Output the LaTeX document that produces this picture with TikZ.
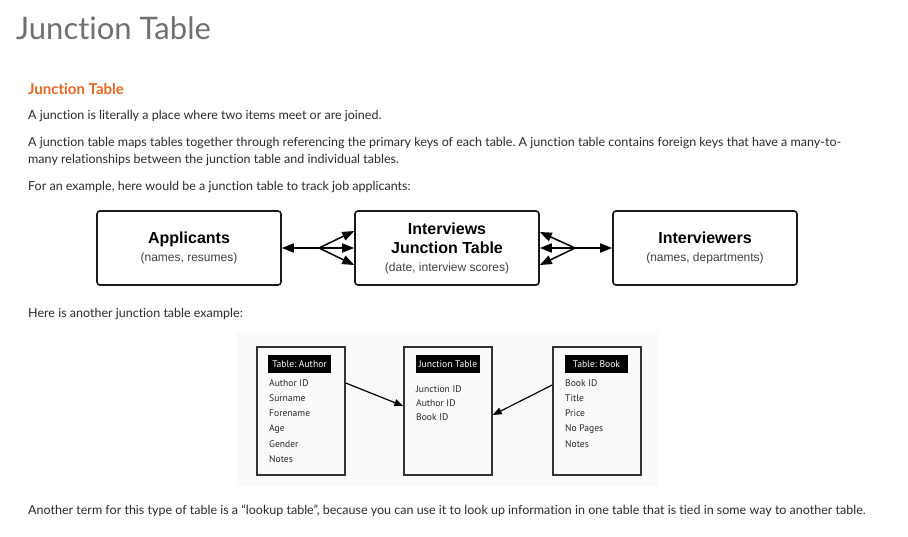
\documentclass[tikz,border=0pt]{standalone}
\usepackage{fontspec}
\setmainfont{Lato}[Ligatures=NoCommon]
\newfontfamily\arialfont{Liberation Sans}
\newfontfamily\tablefont{PT Sans}
\usetikzlibrary{arrows.meta}
\definecolor{txt}{HTML}{2A2A2A}
\definecolor{heading}{HTML}{E8661E}
\definecolor{titlegray}{HTML}{707070}
\definecolor{panel}{HTML}{FAFAFA}
\frenchspacing
\begin{document}
\begin{tikzpicture}[x=1pt,y=-1pt,
	line/.style={anchor=base west,inner sep=0pt,text=txt,font=\fontsize{12.5}{15}\selectfont},
	entity/.style={draw=black!90,line width=1.6pt,rounded corners=3pt,minimum width=184pt,minimum height=74pt,align=center,font=\arialfont\fontsize{16}{19}\selectfont},
	link/.style={line width=1.5pt,-{Triangle[length=12pt,width=9pt]}},
	tbl/.style={draw=black!80,line width=1.5pt,minimum width=88pt,minimum height=128pt},
	hdr/.style={fill=black,text=white,minimum width=63pt,minimum height=18pt,inner ysep=0pt,inner xsep=2.5pt,font=\tablefont\fontsize{9.6}{11}\selectfont},
	row/.style={anchor=west,inner sep=0pt,text=black!85,font=\tablefont\fontsize{9.6}{10}\selectfont},
	fk/.style={line width=1.2pt,-{Triangle[length=9pt,width=7pt]}}]
	\useasboundingbox (0,0) rectangle (908,536);
	% page text
	\node[line,text=titlegray,font=\fontsize{31}{34}\selectfont] (title) at (16,39) {Junction Table};
	\node[line,text=heading,font=\bfseries\fontsize{15}{18}\selectfont] (sub) at (28,94) {Junction Table};
	\node[line] (p1) at (28,119) {A junction is literally a place where two items meet or are joined.};
	\node[line] (p2) at (28,146) {A junction table maps tables together through referencing the primary keys of each table. A junction table contains foreign keys that have a many-to-};
	\node[line] (p3) at (28,163) {many relationships between the junction table and individual tables.};
	\node[line] (p4) at (28,190) {For an example, here would be a junction table to track job applicants:};
	\node[line] (p5) at (28,317) {Here is another junction table example:};
	\node[line] (p6) at (28,514) {Another term for this type of table is a “lookup table”, because you can use it to look up information in one table that is tied in some way to another table.};
	% first diagram
	\node[entity] (app) at (189,248) {\bfseries Applicants\\[-1pt]{\fontsize{12}{14}\selectfont\color{black!75}(names, resumes)}};
	\node[entity] (intv) at (447,248) {\bfseries Interviews\\\bfseries Junction Table\\[-1pt]{\fontsize{12}{14}\selectfont\color{black!75}(date, interview scores)}};
	\node[entity] (intr) at (705,248) {\bfseries Interviewers\\[-1pt]{\fontsize{12}{14}\selectfont\color{black!75}(names, departments)}};
	\coordinate (fl) at (319,248);
	\coordinate (fr) at (575,248);
	\draw[link] (fl) -- (app.east);
	\foreach \dy in {17,0,-17}
		\draw[link] (fl) -- ([yshift=\dy pt]intv.west);
	\foreach \dy in {16,0,-17}
		\draw[link] (fr) -- ([yshift=\dy pt]intv.east);
	\draw[link] (fr) -- (intr.west);
	% second diagram
	\fill[panel] (236,332) rectangle (658,486);
	\node[tbl] (author) at (301,411) {};
	\node[tbl] (junc) at (448,411) {};
	\node[tbl] (book) at (597,411) {};
	\node[hdr] (ha) at (299.5,364) {Table: Author};
	\node[hdr] (hj) at (448,364) {Junction Table};
	\node[hdr] (hb) at (596.5,364) {Table: Book};
	\foreach \t [count=\i] in {Author ID,Surname,Forename,Age,Gender,Notes}
		\node[row] (a\i) at (269,{367.7+15.3*\i}) {\t};
	\foreach \t [count=\i] in {Junction ID,Author ID,Book ID}
		\node[row] (j\i) at (416,{375+14*\i}) {\t};
	\foreach \t [count=\i] in {Book ID,Title,Price,No Pages,Notes}
		\node[row] (b\i) at (565,{367.7+15.3*\i}) {\t};
	\draw[fk] ([yshift=28pt]author.east) -- ([yshift=5pt]junc.west);
	\draw[fk] ([yshift=26pt]book.west) -- ([yshift=-4pt]junc.east);
\end{tikzpicture}
\end{document}
